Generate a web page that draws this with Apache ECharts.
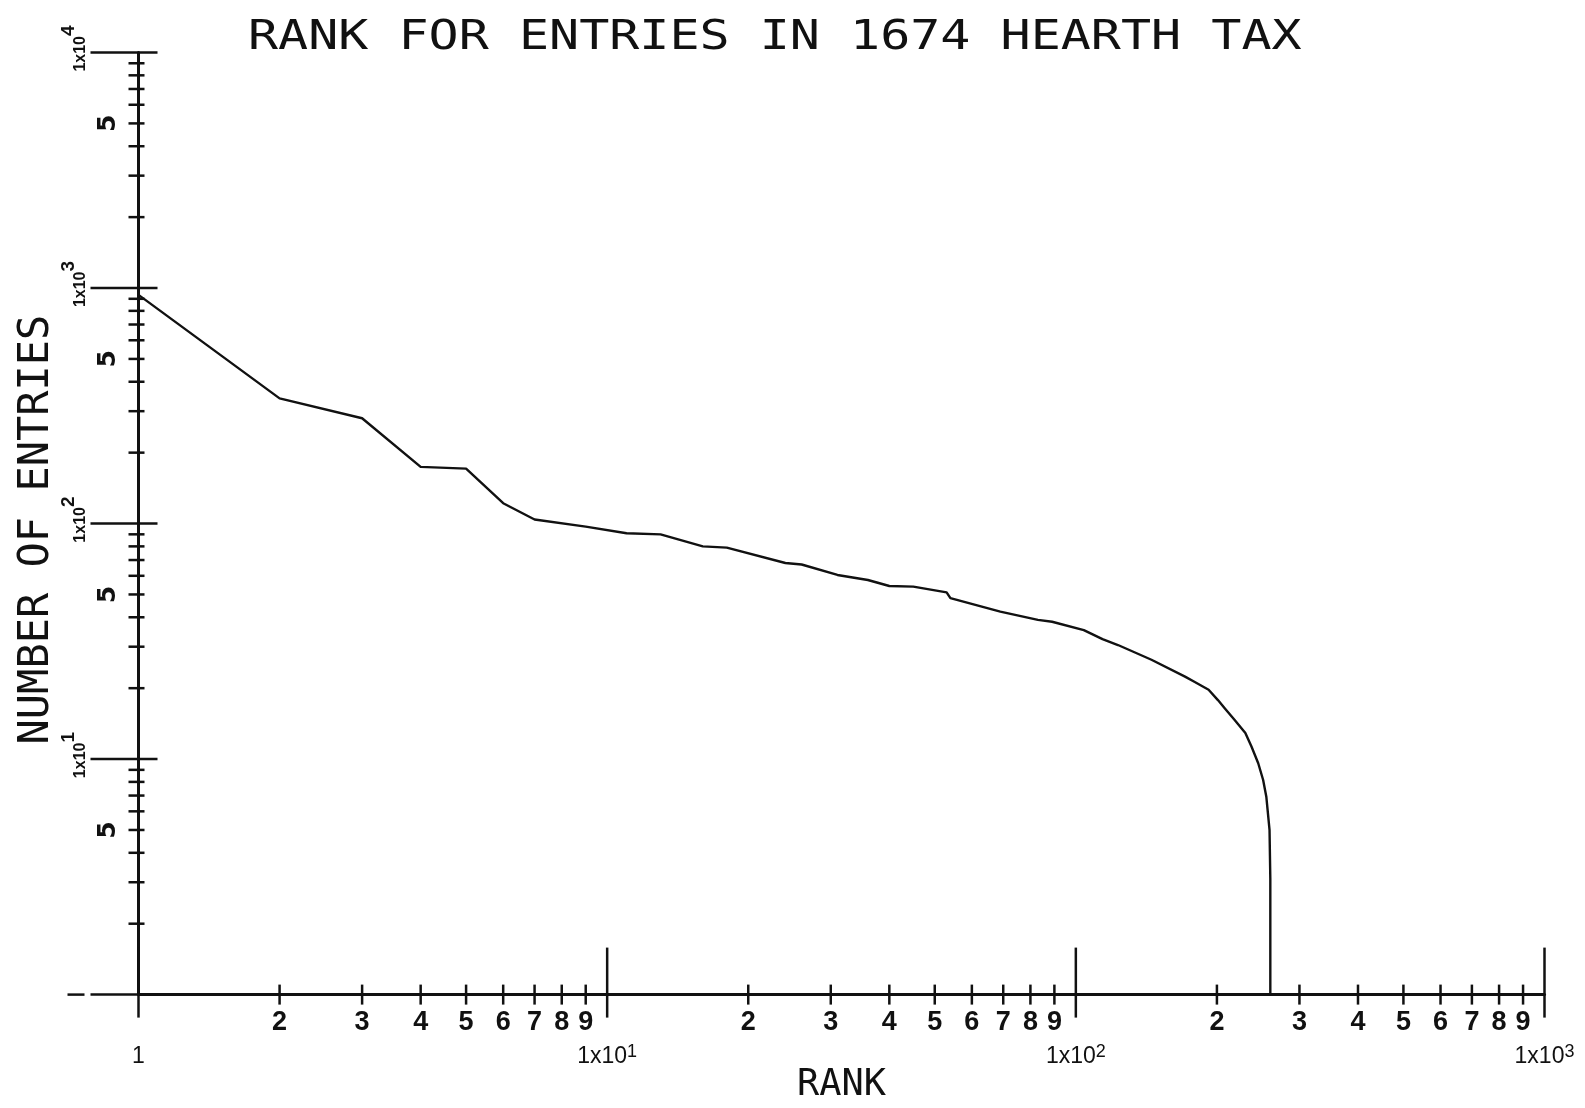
<!DOCTYPE html>
<html>
<head>
<meta charset="utf-8">
<title>Rank for entries in 1674 hearth tax</title>
<script src="https://cdn.jsdelivr.net/npm/echarts@6/dist/echarts.min.js"></script>
<style>
  html, body { margin: 0; padding: 0; background: #fff; }
  #chart { width: 1585px; height: 1108px; }
</style>
</head>
<body>
<div id="chart"></div>
<script>
// rank -> number of entries
const ranks = [1, 2, 3, 4, 5, 6, 7, 9, 11, 13, 16, 18, 24, 26, 31, 36, 40, 45, 53, 54,
  69, 83, 89, 104, 114, 123, 145, 171, 179, 192, 201, 208, 218, 230, 237, 245, 251, 255, 259, 260, 260]
const entries = [935, 340, 280, 174, 171, 122, 104, 97, 91, 90, 80, 79, 68, 67, 60.5, 57.6, 54.3, 54, 51, 48.2,
  42.3, 39, 38.3, 35.3, 32.3, 30.5, 26.4, 22.4, 21.3, 19.7, 17.8, 16.4, 14.7, 12.9, 11.3, 9.6, 8.15, 6.9, 5, 3.1, 1]

const xMajorTicks = [1, 10, 100, 1000]
const yMajorTicks = [1, 10, 100, 1000, 10000]
const xDecades = [1, 10, 100]
const yDecades = [1, 10, 100, 1000]
const minorDigits = [2, 3, 4, 5, 6, 7, 8, 9]
const yLabelledDigits = [5]

const title = 'RANK FOR ENTRIES IN 1674 HEARTH TAX'
const xName = 'RANK'
const yName = 'NUMBER OF ENTRIES'

;(function () {
  const ink = '#111'

  const xMinorTicks = xDecades.flatMap((d) => minorDigits.map((k) => k * d))
  const yMinorTicks = yDecades.flatMap((d) => minorDigits.map((k) => k * d))

  function leadingDigit(v) {
    return Math.round(v / Math.pow(10, Math.floor(Math.log10(v) + 1e-9)))
  }

  function powerLabel(value, skipOne) {
    const exp = Math.round(Math.log10(value))
    if (exp === 0) return skipOne ? '' : '{b|1}'
    return '{b|1x10}{s|' + exp + '}'
  }

  function tickLine(x1, y1, x2, y2) {
    return { type: 'line', shape: { x1, y1, x2, y2 }, style: { stroke: ink, lineWidth: 2.5 } }
  }

  function xMajorItem(params, api) {
    const p = api.coord([api.value(0), api.value(1)])
    return tickLine(p[0], p[1] - 47, p[0], p[1] + 23)
  }

  function xMinorItem(params, api) {
    const v = api.value(0)
    const p = api.coord([v, api.value(1)])
    return {
      type: 'group',
      children: [
        tickLine(p[0], p[1] - 10, p[0], p[1] + 10),
        {
          type: 'text',
          x: p[0],
          y: p[1] + 28,
          style: {
            text: String(leadingDigit(v)),
            font: 'bold 27px "Liberation Sans"',
            fill: ink,
            align: 'center',
            verticalAlign: 'middle',
          },
        },
      ],
    }
  }

  function yMajorItem(params, api) {
    const v = api.value(1)
    const p = api.coord([api.value(0), v])
    const children = [tickLine(p[0] - 48, p[1], p[0] + 19, p[1])]
    if (v === 1) children.push(tickLine(p[0] - 71, p[1], p[0] - 54, p[1]))
    return { type: 'group', children }
  }

  function yMinorItem(params, api) {
    const v = api.value(1)
    const p = api.coord([api.value(0), v])
    const children = [tickLine(p[0] - 10, p[1], p[0] + 6, p[1])]
    const digit = leadingDigit(v)
    if (yLabelledDigits.includes(digit)) {
      children.push({
        type: 'text',
        x: p[0] - 30,
        y: p[1],
        rotation: Math.PI / 2,
        style: {
          text: String(digit),
          font: 'bold 25px "DejaVu Sans"',
          fill: ink,
          align: 'center',
          verticalAlign: 'middle',
        },
      })
    }
    return { type: 'group', children }
  }

  const chart = echarts.init(document.getElementById('chart'), null, { renderer: 'canvas' })

  chart.setOption({
    animation: false,
    backgroundColor: '#fff',
    graphic: [
      {
        type: 'text',
        x: 248,
        y: 39,
        scaleX: 1.25,
        style: {
          text: title,
          font: '40px "DejaVu Sans Mono"',
          fill: ink,
          align: 'left',
          verticalAlign: 'middle',
        },
      },
    ],
    grid: { left: 138.5, right: 40.5, top: 52.5, bottom: 113.4, outerBoundsMode: 'none' },
    xAxis: {
      type: 'log',
      logBase: 10,
      min: 1,
      max: 1000,
      axisLine: { show: true, onZero: false, lineStyle: { color: ink, width: 3 } },
      axisTick: { show: false },
      minorTick: { show: false },
      splitLine: { show: false },
      axisLabel: {
        margin: 48,
        color: ink,
        showMinLabel: true,
        showMaxLabel: true,
        formatter: (v) => powerLabel(v, false),
        rich: {
          b: { fontFamily: 'Liberation Sans', fontSize: 23, lineHeight: 26, verticalAlign: 'bottom', color: ink },
          s: { fontFamily: 'Liberation Sans', fontSize: 18, lineHeight: 16, verticalAlign: 'top', color: ink },
        },
      },
      name: xName,
      nameLocation: 'middle',
      nameGap: 72,
      nameMoveOverlap: false,
      nameTextStyle: { fontFamily: 'DejaVu Sans Mono', fontSize: 37, color: ink },
    },
    yAxis: {
      type: 'log',
      logBase: 10,
      min: 1,
      max: 10000,
      axisLine: { show: true, onZero: false, lineStyle: { color: ink, width: 3 } },
      axisTick: { show: false },
      minorTick: { show: false },
      splitLine: { show: false },
      axisLabel: {
        rotate: 90,
        margin: 50,
        color: ink,
        padding: [0, 0, 0, 8],
        showMinLabel: true,
        showMaxLabel: true,
        formatter: (v) => powerLabel(v, true),
        rich: {
          b: { fontFamily: 'Liberation Sans', fontWeight: 'bold', fontSize: 16, lineHeight: 29, verticalAlign: 'bottom', color: ink },
          s: { fontFamily: 'Liberation Sans', fontWeight: 'bold', fontSize: 19, lineHeight: 18, verticalAlign: 'top', color: ink },
        },
      },
      name: yName,
      nameLocation: 'middle',
      nameRotate: 90,
      nameGap: 80,
      nameMoveOverlap: false,
      nameTextStyle: { fontFamily: 'DejaVu Sans Mono', fontSize: 42, color: ink, padding: [0, 12, 0, 0] },
    },
    series: [
      { type: 'custom', clip: false, silent: true, renderItem: xMajorItem, data: xMajorTicks.map((v) => [v, 1]) },
      { type: 'custom', clip: false, silent: true, renderItem: xMinorItem, data: xMinorTicks.map((v) => [v, 1]) },
      { type: 'custom', clip: false, silent: true, renderItem: yMajorItem, data: yMajorTicks.map((v) => [1, v]) },
      { type: 'custom', clip: false, silent: true, renderItem: yMinorItem, data: yMinorTicks.map((v) => [1, v]) },
      {
        name: 'Entries',
        type: 'line',
        showSymbol: false,
        symbol: 'none',
        z: 5,
        lineStyle: { color: ink, width: 2.4, join: 'round' },
        data: ranks.map((r, i) => [r, entries[i]]),
      },
    ],
  })
})()
</script>
</body>
</html>
